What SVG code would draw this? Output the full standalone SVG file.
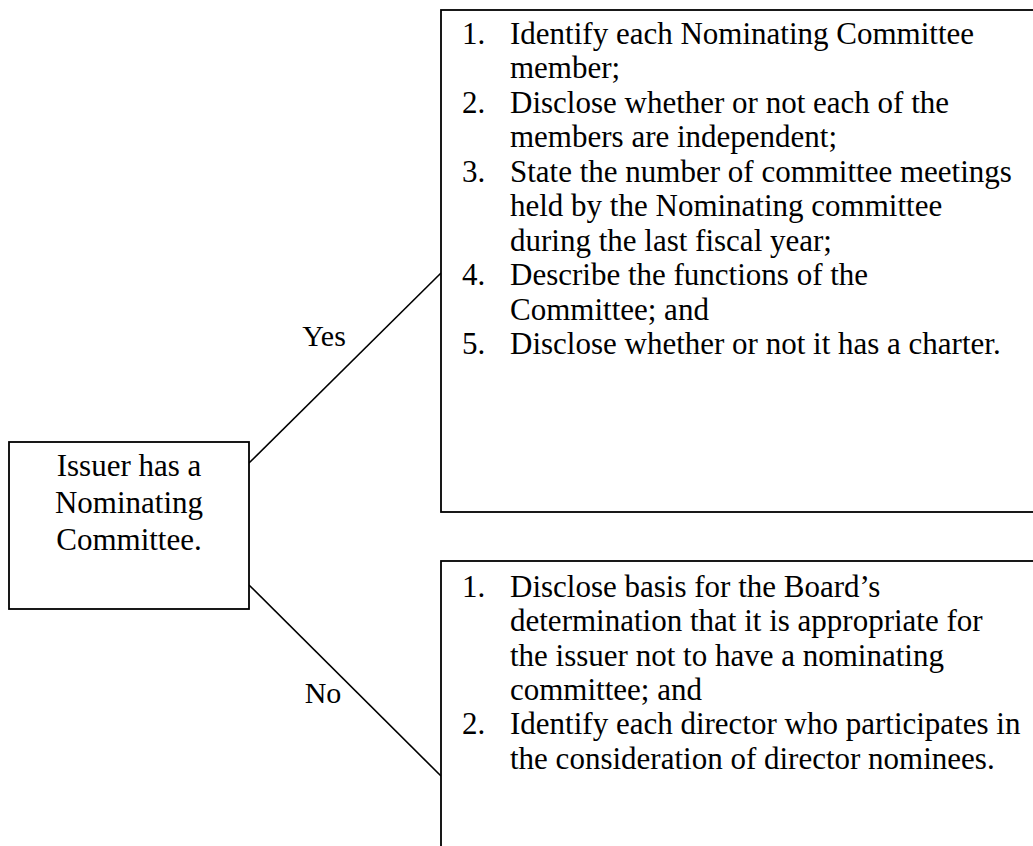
<svg xmlns="http://www.w3.org/2000/svg" width="1033" height="846" viewBox="0 0 1033 846">
<style>
  .box { fill: #ffffff; stroke: #000000; stroke-width: 1.8; }
  .edge { stroke: #000000; stroke-width: 1.6; fill: none; }
  text { font-family: "Liberation Serif", "Times New Roman", serif; font-size: 31px; fill: #000000; }
  .c { text-anchor: middle; }
  .lbl { font-size: 30px; }
</style>
<rect width="1033" height="846" fill="#ffffff"/>
<g id="connectors">
  <line class="edge" x1="249" y1="463" x2="441" y2="273"/>
  <line class="edge" x1="249" y1="585" x2="441" y2="776"/>
  <text x="324" y="346" class="c lbl">Yes</text>
  <text x="323" y="703" class="c lbl">No</text>
</g>
<g id="issuer">
  <rect class="box" x="9" y="442" width="240" height="167"/>
  <text x="129" y="476" class="c">Issuer has a</text>
  <text x="129" y="513" class="c">Nominating</text>
  <text x="129" y="550" class="c">Committee.</text>
</g>
<g id="yes-box">
  <rect class="box" x="441" y="10" width="620" height="502"/>
  <text x="462" y="43.5">1.</text>
  <text x="510" y="43.5">Identify each Nominating Committee</text>
  <text x="510" y="78">member;</text>
  <text x="462" y="112.5">2.</text>
  <text x="510" y="112.5">Disclose whether or not each of the</text>
  <text x="510" y="147">members are independent;</text>
  <text x="462" y="181.5">3.</text>
  <text x="510" y="181.5">State the number of committee meetings</text>
  <text x="510" y="216">held by the Nominating committee</text>
  <text x="510" y="250.5">during the last fiscal year;</text>
  <text x="462" y="285">4.</text>
  <text x="510" y="285">Describe the functions of the</text>
  <text x="510" y="319.5">Committee; and</text>
  <text x="462" y="354">5.</text>
  <text x="510" y="354">Disclose whether or not it has a charter.</text>
</g>
<g id="no-box">
  <rect class="box" x="441" y="561" width="620" height="320"/>
  <text x="462" y="597">1.</text>
  <text x="510" y="597">Disclose basis for the Board’s</text>
  <text x="510" y="631.3">determination that it is appropriate for</text>
  <text x="510" y="665.6">the issuer not to have a nominating</text>
  <text x="510" y="699.9">committee; and</text>
  <text x="462" y="734.2">2.</text>
  <text x="510" y="734.2">Identify each director who participates in</text>
  <text x="510" y="768.5">the consideration of director nominees.</text>
</g>
</svg>
